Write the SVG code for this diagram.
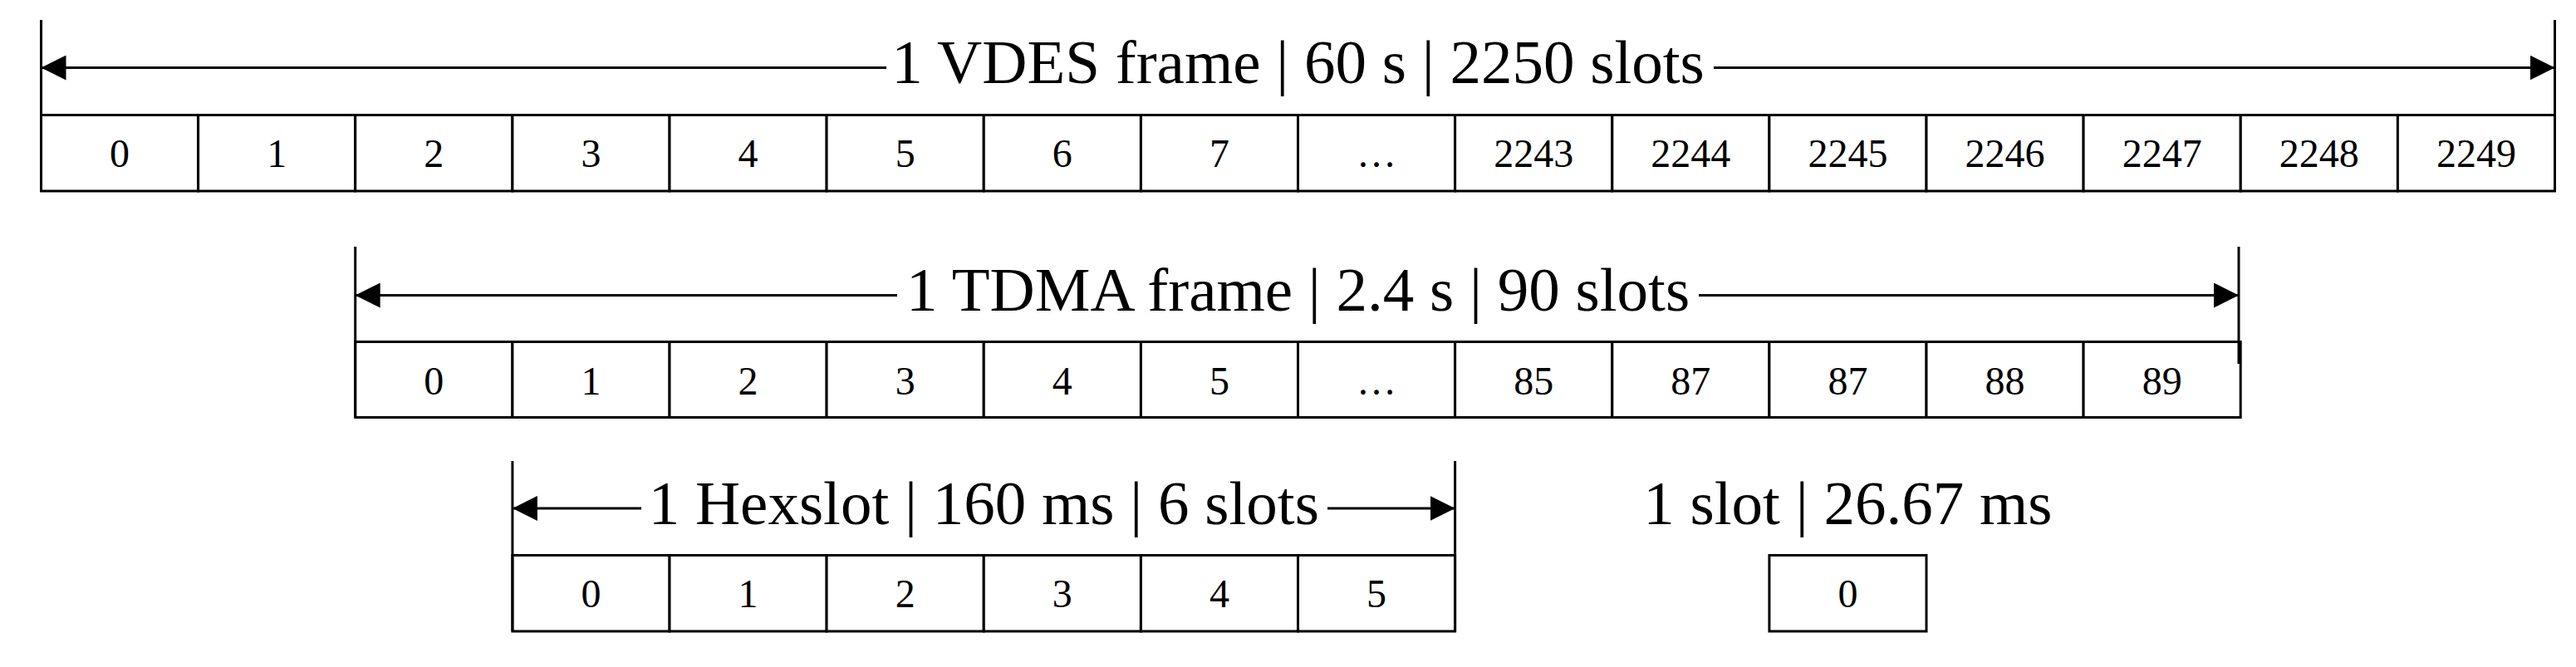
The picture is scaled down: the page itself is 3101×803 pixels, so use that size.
<svg xmlns="http://www.w3.org/2000/svg" width="3101" height="803" viewBox="0 0 3101 803">
<defs>
<style>
.cell{fill:#fff;stroke:#000;stroke-width:3}
.num{font-family:"Liberation Serif","Times New Roman",serif;font-size:48px;fill:#000;text-anchor:middle}
.lbl{font-family:"Liberation Serif","Times New Roman",serif;font-size:75px;fill:#000;text-anchor:middle}
.tick{stroke:#000;stroke-width:3;fill:none}
.arr{stroke:#000;stroke-width:3;fill:none}
.arrS{marker-start:url(#ah)}
.arrE{marker-end:url(#ah)}
</style>
<marker id="ah" markerUnits="userSpaceOnUse" markerWidth="30" markerHeight="30" refX="30" refY="15" orient="auto-start-reverse">
<path d="M0,0 L30,15 L0,30 Z" fill="#000"/>
</marker>
</defs>
<rect width="3101" height="803" fill="#fff"/>

<g id="vdes-frame">
<g id="vdes-cells">
<rect class="cell" x="49.5" y="138.5" width="189.1" height="91.5"/><text class="num" x="144" y="201">0</text>
<rect class="cell" x="238.6" y="138.5" width="189.1" height="91.5"/><text class="num" x="333.2" y="201">1</text>
<rect class="cell" x="427.7" y="138.5" width="189.1" height="91.5"/><text class="num" x="522.3" y="201">2</text>
<rect class="cell" x="616.9" y="138.5" width="189.1" height="91.5"/><text class="num" x="711.4" y="201">3</text>
<rect class="cell" x="806" y="138.5" width="189.1" height="91.5"/><text class="num" x="900.6" y="201">4</text>
<rect class="cell" x="995.1" y="138.5" width="189.1" height="91.5"/><text class="num" x="1089.7" y="201">5</text>
<rect class="cell" x="1184.3" y="138.5" width="189.1" height="91.5"/><text class="num" x="1278.8" y="201">6</text>
<rect class="cell" x="1373.4" y="138.5" width="189.1" height="91.5"/><text class="num" x="1467.9" y="201">7</text>
<rect class="cell" x="1562.5" y="138.5" width="189.1" height="91.5"/><text class="num" x="1657.1" y="201">…</text>
<rect class="cell" x="1751.6" y="138.5" width="189.1" height="91.5"/><text class="num" x="1846.2" y="201">2243</text>
<rect class="cell" x="1940.8" y="138.5" width="189.1" height="91.5"/><text class="num" x="2035.3" y="201">2244</text>
<rect class="cell" x="2129.9" y="138.5" width="189.1" height="91.5"/><text class="num" x="2224.4" y="201">2245</text>
<rect class="cell" x="2319" y="138.5" width="189.1" height="91.5"/><text class="num" x="2413.6" y="201">2246</text>
<rect class="cell" x="2508.1" y="138.5" width="189.1" height="91.5"/><text class="num" x="2602.7" y="201">2247</text>
<rect class="cell" x="2697.3" y="138.5" width="189.1" height="91.5"/><text class="num" x="2791.8" y="201">2248</text>
<rect class="cell" x="2886.4" y="138.5" width="189.1" height="91.5"/><text class="num" x="2981" y="201">2249</text>
</g>
<text class="lbl" x="1562.5" y="100">1 VDES frame | 60 s | 2250 slots</text>
</g>

<g id="tdma-frame">
<g id="tdma-cells">
<rect class="cell" x="427.7" y="411.5" width="189.1" height="91"/><text class="num" x="522.3" y="475">0</text>
<rect class="cell" x="616.9" y="411.5" width="189.1" height="91"/><text class="num" x="711.4" y="475">1</text>
<rect class="cell" x="806" y="411.5" width="189.1" height="91"/><text class="num" x="900.6" y="475">2</text>
<rect class="cell" x="995.1" y="411.5" width="189.1" height="91"/><text class="num" x="1089.7" y="475">3</text>
<rect class="cell" x="1184.3" y="411.5" width="189.1" height="91"/><text class="num" x="1278.8" y="475">4</text>
<rect class="cell" x="1373.4" y="411.5" width="189.1" height="91"/><text class="num" x="1467.9" y="475">5</text>
<rect class="cell" x="1562.5" y="411.5" width="189.1" height="91"/><text class="num" x="1657.1" y="475">…</text>
<rect class="cell" x="1751.6" y="411.5" width="189.1" height="91"/><text class="num" x="1846.2" y="475">85</text>
<rect class="cell" x="1940.8" y="411.5" width="189.1" height="91"/><text class="num" x="2035.3" y="475">87</text>
<rect class="cell" x="2129.9" y="411.5" width="189.1" height="91"/><text class="num" x="2224.4" y="475">87</text>
<rect class="cell" x="2319" y="411.5" width="189.1" height="91"/><text class="num" x="2413.6" y="475">88</text>
<rect class="cell" x="2508.1" y="411.5" width="189.1" height="91"/><text class="num" x="2602.7" y="475">89</text>
</g>
<text class="lbl" x="1562.5" y="374">1 TDMA frame | 2.4 s | 90 slots</text>
</g>

<g id="hexslot">
<g id="hexslot-cells">
<rect class="cell" x="616.9" y="668.5" width="189.1" height="91.5"/><text class="num" x="711.4" y="731">0</text>
<rect class="cell" x="806" y="668.5" width="189.1" height="91.5"/><text class="num" x="900.6" y="731">1</text>
<rect class="cell" x="995.1" y="668.5" width="189.1" height="91.5"/><text class="num" x="1089.7" y="731">2</text>
<rect class="cell" x="1184.3" y="668.5" width="189.1" height="91.5"/><text class="num" x="1278.8" y="731">3</text>
<rect class="cell" x="1373.4" y="668.5" width="189.1" height="91.5"/><text class="num" x="1467.9" y="731">4</text>
<rect class="cell" x="1562.5" y="668.5" width="189.1" height="91.5"/><text class="num" x="1657.1" y="731">5</text>
</g>
<text class="lbl" x="1184.3" y="631">1 Hexslot | 160 ms | 6 slots</text>
</g>

<g id="single-slot">
<rect class="cell" x="2129.9" y="668.5" width="189.1" height="91.5"/><text class="num" x="2224.4" y="731">0</text>
<text class="lbl" x="2224.4" y="631">1 slot | 26.67 ms</text>
</g>

<g id="connectors">
<line class="tick" x1="49.5" y1="24" x2="49.5" y2="230"/>
<line class="tick" x1="3075.5" y1="24" x2="3075.5" y2="230"/>
<line class="arr arrS" x1="49.5" y1="81.5" x2="1067" y2="81.5"/>
<line class="arr arrE" x1="2063" y1="81.5" x2="3075.5" y2="81.5"/>

<line class="tick" x1="427.7" y1="297" x2="427.7" y2="502"/>
<line class="tick" x1="2695" y1="297" x2="2695" y2="438"/>
<line class="arr arrS" x1="427.7" y1="355.5" x2="1080" y2="355.5"/>
<line class="arr arrE" x1="2045" y1="355.5" x2="2695" y2="355.5"/>

<line class="tick" x1="616.9" y1="555" x2="616.9" y2="760"/>
<line class="tick" x1="1751.6" y1="555" x2="1751.6" y2="760"/>
<line class="arr arrS" x1="616.9" y1="612" x2="772" y2="612"/>
<line class="arr arrE" x1="1598" y1="612" x2="1751.6" y2="612"/>
</g>
</svg>
